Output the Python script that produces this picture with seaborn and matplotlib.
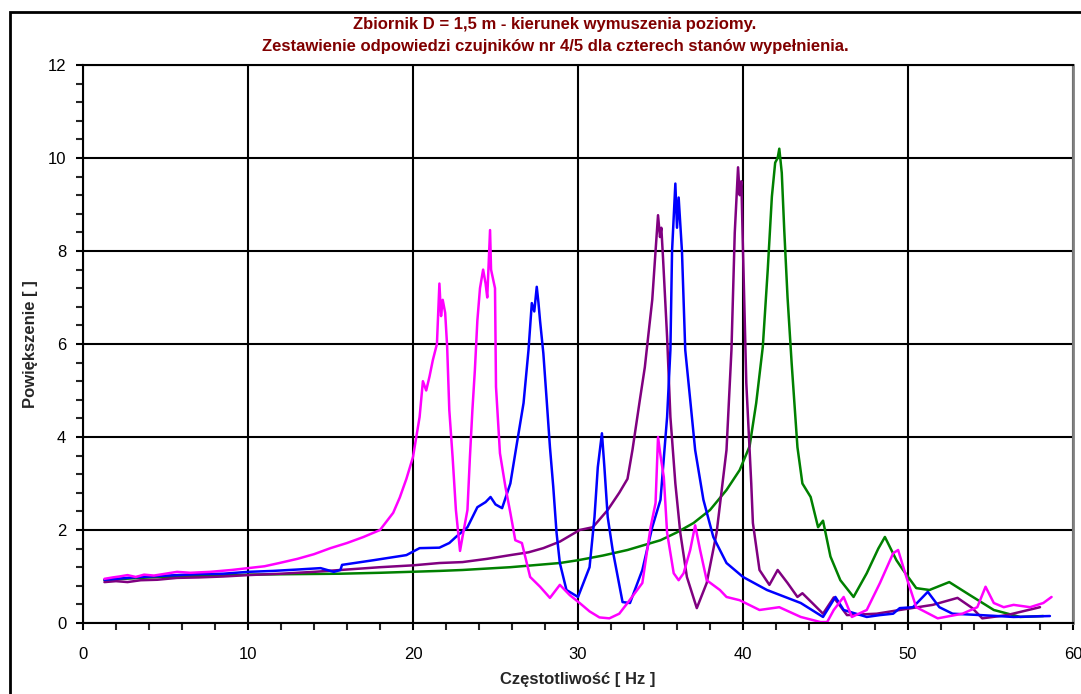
import matplotlib
matplotlib.use("Agg")
import matplotlib.pyplot as plt
import matplotlib.patches as patches
from matplotlib.ticker import MultipleLocator
import seaborn as sns
import pandas as pd

# (frequency [Hz], magnification)
magenta_pts = [
    (1.3, 0.95), (1.8, 0.98), (2.2, 1.0), (2.7, 1.03), (3.2, 0.99), (3.7, 1.04), (4.3, 1.02),
    (5.0, 1.06), (5.7, 1.1), (6.5, 1.08), (7.7, 1.1), (9.0, 1.14), (10.0, 1.18), (11.0, 1.22),
    (11.9, 1.29), (13.0, 1.38), (14.0, 1.48), (15.0, 1.61), (16.0, 1.72), (17.0, 1.85),
    (18.0, 2.0), (18.8, 2.37), (19.2, 2.7), (19.6, 3.1), (20.0, 3.57), (20.4, 4.43),
    (20.6, 5.2), (20.8, 5.0), (21.0, 5.3), (21.2, 5.65), (21.45, 6.0), (21.6, 7.3),
    (21.7, 6.6), (21.8, 6.95), (21.95, 6.67), (22.07, 5.94), (22.2, 4.58), (22.4, 3.57),
    (22.6, 2.43), (22.85, 1.55), (23.0, 1.85), (23.3, 2.43), (23.45, 3.57), (23.6, 4.58),
    (23.75, 5.44), (23.9, 6.5), (24.06, 7.2), (24.25, 7.6), (24.4, 7.3), (24.5, 7.0),
    (24.67, 8.45), (24.73, 7.6), (24.85, 7.4), (24.97, 7.2), (25.03, 5.08), (25.27, 3.65),
    (25.6, 2.93), (25.9, 2.37), (26.2, 1.78), (26.6, 1.72), (27.1, 0.99), (27.7, 0.78),
    (28.3, 0.54), (28.9, 0.82), (29.5, 0.6), (30.1, 0.43), (30.7, 0.25), (31.3, 0.12),
    (31.9, 0.1), (32.5, 0.2), (33.0, 0.43), (33.9, 0.86), (34.4, 2.06), (34.7, 2.58),
    (34.85, 4.0), (35.0, 3.6), (35.2, 3.14), (35.4, 1.94), (35.8, 1.07), (36.1, 0.92),
    (36.4, 1.07), (36.8, 1.57), (37.1, 2.1), (37.4, 1.57), (37.8, 0.92), (38.6, 0.71),
    (39.0, 0.56), (39.8, 0.49), (41.0, 0.28), (42.2, 0.34), (43.5, 0.13), (44.7, 0.02),
    (45.1, 0.02), (45.5, 0.28), (46.1, 0.56), (46.6, 0.13), (47.5, 0.28), (48.3, 0.86),
    (49.1, 1.5), (49.4, 1.57), (49.9, 0.99), (50.5, 0.34), (51.8, 0.1), (53.3, 0.2),
    (54.2, 0.34), (54.7, 0.78), (55.2, 0.43), (55.8, 0.34), (56.4, 0.39), (57.4, 0.34),
    (58.2, 0.43), (58.7, 0.56),
]

blue_pts = [
    (1.3, 0.93), (2.0, 0.95), (3.0, 0.98), (4.0, 1.0), (5.7, 1.03), (7.0, 1.05), (8.5, 1.06),
    (10.0, 1.1), (11.5, 1.12), (13.0, 1.15), (14.4, 1.18), (15.2, 1.1), (15.6, 1.14),
    (15.7, 1.25), (17.6, 1.35), (19.6, 1.46), (20.4, 1.61), (21.6, 1.62), (22.2, 1.72),
    (22.6, 1.85), (23.3, 2.06), (23.9, 2.49), (24.4, 2.6), (24.7, 2.71), (25.0, 2.55),
    (25.4, 2.47), (25.9, 3.0), (26.3, 3.87), (26.7, 4.73), (27.0, 5.87), (27.2, 6.88),
    (27.35, 6.7), (27.5, 7.23), (27.6, 6.9), (27.7, 6.5), (27.9, 5.8), (28.1, 4.8),
    (28.3, 3.78), (28.5, 2.93), (28.7, 1.94), (28.9, 1.29), (29.3, 0.71), (30.0, 0.56),
    (30.7, 1.2), (31.0, 2.28), (31.2, 3.35), (31.45, 4.08), (31.6, 3.35), (31.8, 2.28),
    (32.1, 1.57), (32.7, 0.45), (33.15, 0.43), (33.9, 1.14), (34.5, 2.06), (35.0, 2.65),
    (35.4, 4.43), (35.6, 5.87), (35.7, 8.0), (35.9, 9.45), (36.0, 8.5), (36.1, 9.15),
    (36.3, 8.0), (36.5, 5.87), (36.8, 4.8), (37.1, 3.72), (37.6, 2.65), (38.2, 1.85),
    (39.0, 1.29), (40.0, 0.99), (41.45, 0.71), (43.5, 0.43), (44.85, 0.13), (45.6, 0.56),
    (46.1, 0.28), (47.5, 0.13), (48.3, 0.17), (49.1, 0.2), (49.5, 0.32), (50.3, 0.34),
    (51.2, 0.67), (51.9, 0.34), (52.7, 0.2), (54.4, 0.17), (56.4, 0.13), (58.6, 0.15),
]

purple_pts = [
    (1.3, 0.88), (2.0, 0.9), (2.7, 0.88), (3.5, 0.92), (4.5, 0.93), (5.7, 0.97), (7.0, 0.98),
    (8.5, 1.0), (10.0, 1.03), (12.0, 1.06), (14.0, 1.1), (15.6, 1.14), (18.0, 1.2),
    (20.0, 1.24), (21.6, 1.29), (23.0, 1.31), (24.5, 1.38), (25.9, 1.46), (27.0, 1.52),
    (27.9, 1.61), (28.9, 1.75), (30.1, 2.0), (30.9, 2.06), (31.8, 2.43), (32.5, 2.8),
    (33.0, 3.1), (33.3, 3.72), (33.75, 4.8), (34.05, 5.5), (34.25, 6.15), (34.5, 6.95),
    (34.7, 8.0), (34.85, 8.77), (34.97, 8.3), (35.05, 8.5), (35.15, 7.87), (35.4, 6.15),
    (35.6, 4.43), (35.9, 3.0), (36.2, 1.94), (36.6, 0.99), (37.2, 0.32), (37.8, 0.86),
    (38.4, 1.94), (39.0, 3.72), (39.3, 5.87), (39.5, 8.39), (39.7, 9.8), (39.8, 9.2),
    (39.9, 9.5), (40.0, 8.0), (40.2, 5.16), (40.5, 3.0), (40.6, 2.15), (41.0, 1.14),
    (41.6, 0.82), (42.1, 1.14), (42.7, 0.86), (43.3, 0.56), (43.6, 0.64), (44.2, 0.43),
    (44.85, 0.2), (45.5, 0.55), (46.3, 0.17), (48.1, 0.2), (49.5, 0.28), (51.5, 0.39),
    (53.0, 0.54), (53.9, 0.32), (54.5, 0.1), (56.0, 0.17), (58.0, 0.34),
]

green_pts = [
    (1.3, 0.92), (2.5, 0.95), (4.0, 0.98), (5.7, 1.0), (8.0, 1.02), (10.0, 1.04),
    (12.5, 1.05), (15.6, 1.06), (18.0, 1.08), (21.6, 1.12), (23.0, 1.14), (25.9, 1.2),
    (28.9, 1.29), (30.0, 1.35), (31.5, 1.45), (33.0, 1.57), (35.0, 1.78), (36.0, 1.95),
    (37.0, 2.15), (38.0, 2.43), (39.0, 2.86), (39.8, 3.29), (40.4, 3.8), (40.8, 4.73),
    (41.2, 5.94), (41.5, 7.6), (41.75, 9.17), (41.95, 9.9), (42.1, 10.0), (42.2, 10.2),
    (42.35, 9.68), (42.5, 8.45), (42.7, 7.0), (42.95, 5.58), (43.3, 3.78), (43.6, 3.0),
    (44.1, 2.71), (44.55, 2.06), (44.85, 2.2), (45.3, 1.43), (45.9, 0.92), (46.7, 0.56),
    (47.5, 1.07), (48.2, 1.6), (48.6, 1.85), (49.3, 1.35), (49.7, 1.14), (50.5, 0.75),
    (51.3, 0.71), (52.5, 0.88), (53.75, 0.6), (55.2, 0.28), (56.8, 0.13), (58.2, 0.15),
]

series_names = ["stan 1", "stan 2", "stan 3", "stan 4"]
series_pts = [green_pts, purple_pts, blue_pts, magenta_pts]
series_colors = ["#008000", "#800080", "#0000FF", "#FF00FF"]

title_lines = [
    "Zbiornik D = 1,5 m - kierunek wymuszenia poziomy.",
    "Zestawienie odpowiedzi czujników nr 4/5 dla czterech stanów wypełnienia.",
]

rows = []
for name, pts in zip(series_names, series_pts):
    for f, a in pts:
        rows.append({"f": f, "a": a, "seria": name})
df = pd.DataFrame(rows)

sns.set_style("white")
plt.rcParams["font.family"] = ["Liberation Sans", "DejaVu Sans"]

fig = plt.figure(figsize=(10.81, 6.94), dpi=100)
ax = fig.add_axes([83 / 1081, 1 - 623 / 694, 990 / 1081, 558 / 694])

sns.lineplot(data=df, x="f", y="a", hue="seria", palette=dict(zip(series_names, series_colors)),
             sort=False, estimator=None, linewidth=1.8, legend=False, ax=ax)

ax.set_xlim(0, 60)
ax.set_ylim(0, 12)
ax.xaxis.set_major_locator(MultipleLocator(10))
ax.xaxis.set_minor_locator(MultipleLocator(2))
ax.yaxis.set_major_locator(MultipleLocator(2))
ax.yaxis.set_minor_locator(MultipleLocator(0.4))
ax.grid(True, which="major", color="black", linewidth=1.5)
ax.tick_params(which="major", direction="out", length=5, width=1.5, labelsize=12,
               colors="black", bottom=True, left=True)
ax.tick_params(axis="x", which="major", pad=12)
ax.tick_params(axis="y", which="major", pad=7)
ax.tick_params(which="minor", direction="out", length=5, width=1.5, bottom=True, left=True)

for side in ["left", "bottom", "top"]:
    ax.spines[side].set_color("black")
    ax.spines[side].set_linewidth(1.5)
ax.spines["right"].set_color("#808080")
ax.spines["right"].set_linewidth(2)

ax.set_xlabel("Częstotliwość [ Hz ]", fontsize=12, fontweight="bold")
ax.set_ylabel("Powiększenie [ ]", fontsize=12, fontweight="bold")
ax.xaxis.set_label_coords(0.5, -0.087)
ax.yaxis.set_label_coords(-0.045, 0.5)

fig.text(555 / 1081, 1 - 25 / 694, title_lines[0], ha="center", va="center",
         fontsize=12, fontweight="bold", color="#800000")
fig.text(555 / 1081, 1 - 46 / 694, title_lines[1], ha="center", va="center",
         fontsize=12, fontweight="bold", color="#800000")

# outer chart-area frame (only its left and top edges fall inside the image)
fig.patches.append(patches.Rectangle((10 / 1081, -1.0), 3.0, 2.0 - 12 / 694, transform=fig.transFigure,
                                     fill=False, edgecolor="black", linewidth=2))

fig.savefig("out.png", dpi=100)
